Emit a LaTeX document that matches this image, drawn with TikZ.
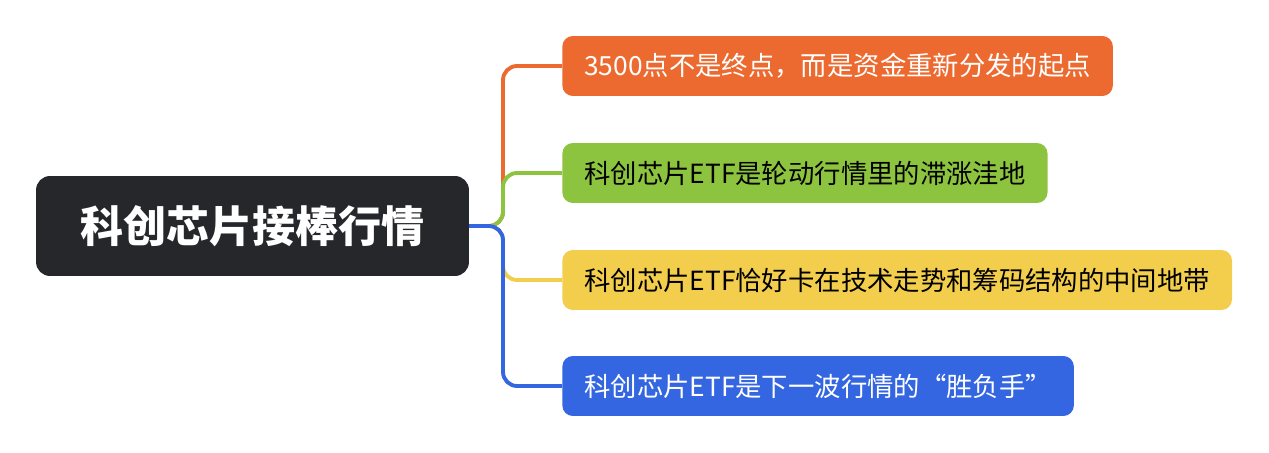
\documentclass[tikz,border=0pt]{standalone}
\usepackage{fontspec}
\setmainfont{Noto Sans CJK SC}
\usetikzlibrary{positioning}
\definecolor{rootc}{HTML}{26272B}
\definecolor{orc}{HTML}{EC6A30}
\definecolor{grc}{HTML}{8DC43F}
\definecolor{yec}{HTML}{F2CE4C}
\definecolor{blc}{HTML}{3366E0}
\tikzset{
  topic/.style={rounded corners=6pt, minimum height=1.2cm, anchor=west, inner xsep=0.44cm, font=\fontsize{15}{18}\selectfont},
  link/.style={line width=2.2pt, rounded corners=8pt}
}
\begin{document}
\begin{tikzpicture}[x=0.02cm,y=-0.02cm]
  \useasboundingbox (0,0) rectangle (1269,453);
  % central topic
  \node[fill=rootc, text=white, rounded corners=8pt, minimum width=8.66cm, minimum height=2cm,
        font=\fontsize{24.5}{28}\bfseries\selectfont] (root) at (252.5,226) {科创芯片接棒行情};
  \coordinate (fork) at (469,226);
  % branches
  \node[topic, fill=orc, text=white] (b1) at (562,66) {3500点不是终点，而是资金重新分发的起点};
  \node[topic, fill=grc, text=black] (b2) at (562,173) {科创芯片ETF是轮动行情里的滞涨洼地};
  \node[topic, fill=yec, text=black] (b3) at (562,280) {科创芯片ETF恰好卡在技术走势和筹码结构的中间地带};
  \node[topic, fill=blc, text=white] (b4) at (562,386) {科创芯片ETF是下一波行情的“胜负手”};
  % connectors
  \draw[link, orc] (fork) -- (503,226) |- (b1.west);
  \draw[link, grc] (fork) -- (503,226) |- (b2.west);
  \draw[link, yec] (fork) -- (503,226) |- (b3.west);
  \draw[link, blc] (fork) -- (503,226) |- (b4.west);
\end{tikzpicture}
\end{document}
